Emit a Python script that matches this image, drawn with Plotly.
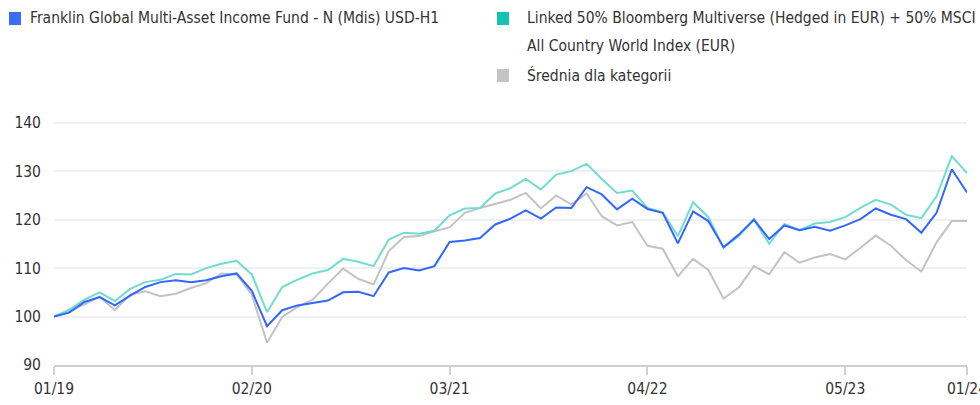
import plotly.graph_objects as go

# ---- data ----
months = []
for yr in range(2019, 2025):
    for m in range(1, 13):
        if yr == 2024 and m > 1:
            break
        months.append(f"{m:02d}/{yr % 100:02d}")

fund = [100.0, 100.8, 103.0, 104.0, 102.3, 104.3, 106.1, 107.1, 107.5, 107.1, 107.5, 108.3, 108.9,
        105.3, 98.0, 101.3, 102.3, 102.8, 103.3, 105.0, 105.1, 104.2, 109.1, 110.0, 109.5, 110.4,
        115.4, 115.7, 116.2, 119.0, 120.2, 121.9, 120.2, 122.5, 122.4, 126.7, 125.2, 122.1, 124.3,
        122.2, 121.4, 115.1, 121.7, 119.7, 114.3, 116.9, 120.0, 116.0, 118.8, 117.8, 118.5, 117.7,
        118.8, 120.1, 122.3, 121.0, 120.1, 117.3, 121.4, 130.4, 125.6]

benchmark = [100.0, 101.4, 103.5, 105.0, 103.2, 105.7, 107.1, 107.6, 108.8, 108.7, 110.0, 110.9, 111.5,
             108.7, 100.9, 106.1, 107.6, 108.9, 109.6, 111.9, 111.3, 110.4, 115.9, 117.3, 117.1, 117.7,
             120.9, 122.3, 122.4, 125.4, 126.5, 128.4, 126.2, 129.3, 130.0, 131.5, 128.4, 125.5, 126.0,
             122.4, 121.5, 116.6, 123.6, 120.5, 114.2, 116.6, 120.0, 115.0, 119.1, 117.8, 119.2, 119.5,
             120.5, 122.4, 124.1, 123.1, 121.0, 120.3, 124.8, 133.1, 129.6]

category = [100.0, 101.1, 102.5, 104.1, 101.3, 104.5, 105.2, 104.2, 104.7, 105.9, 106.9, 108.9, 108.7,
            104.5, 94.6, 99.9, 102.0, 103.5, 106.8, 109.9, 107.8, 106.6, 113.5, 116.4, 116.6, 117.6,
            118.4, 121.4, 122.4, 123.3, 124.1, 125.5, 122.3, 125.0, 123.1, 125.4, 120.7, 118.8, 119.5,
            114.6, 114.0, 108.3, 111.9, 109.6, 103.7, 106.0, 110.4, 108.7, 113.3, 111.1, 112.2, 112.9,
            111.8, 114.2, 116.7, 114.6, 111.6, 109.3, 115.3, 119.7, 119.7]

x_ticks = ["01/19", "02/20", "03/21", "04/22", "05/23", "01/24"]
y_ticks = [90, 100, 110, 120, 130, 140]

names = ["Franklin Global Multi-Asset Income Fund - N (Mdis) USD-H1",
         "Linked 50% Bloomberg Multiverse (Hedged in EUR) + 50% MSCI",
         "All Country World Index (EUR)",
         "Średnia dla kategorii"]

FONT = "DejaVu Sans Condensed, Liberation Sans Narrow, sans-serif"
TXT = "#333333"
FS = 15.5

W, H = 980, 405
ML, MR, MT, MB = 54, 13, 113, 40
PW, PH = W - ML - MR, H - MT - MB


def px(xp):
    return (xp - ML) / PW


def py(yp):
    return (H - MB - yp) / PH


fig = go.Figure()
fig.add_trace(go.Scatter(x=months, y=category, mode="lines", name=names[3],
                         line=dict(color="#c3c3c3", width=2), showlegend=False))
fig.add_trace(go.Scatter(x=months, y=benchmark, mode="lines", name=names[1],
                         line=dict(color="#6fdcd2", width=2), showlegend=False))
fig.add_trace(go.Scatter(x=months, y=fund, mode="lines", name=names[0],
                         line=dict(color="#3366ff", width=2), showlegend=False))

# custom legend
legend_items = [
    (9, 12, "#3a6cf5", 28, 18, names[0]),
    (497, 12, "#12c3b4", 525, 18, names[1]),
    (497, 69, "#c4c4c4", 525, 75, names[3]),
]
for sx, sy, col, tx, ty, txt in legend_items:
    fig.add_shape(type="rect", xref="paper", yref="paper",
                  x0=px(sx), x1=px(sx + 12), y0=py(sy + 13), y1=py(sy),
                  fillcolor=col, line=dict(width=0))
    fig.add_annotation(xref="paper", yref="paper", x=px(tx), y=py(ty), text=txt,
                       showarrow=False, xanchor="left", yanchor="middle",
                       font=dict(family=FONT, size=FS, color=TXT))
fig.add_annotation(xref="paper", yref="paper", x=px(525), y=py(46), text=names[2],
                   showarrow=False, xanchor="left", yanchor="middle",
                   font=dict(family=FONT, size=FS, color=TXT))

fig.update_layout(
    width=W, height=H,
    margin=dict(l=ML, r=MR, t=MT, b=MB),
    paper_bgcolor="white", plot_bgcolor="white",
    font=dict(family=FONT, size=FS, color=TXT),
    showlegend=False,
    xaxis=dict(type="category", range=[0, len(months) - 1], automargin=False,
               tickmode="array", tickvals=x_ticks, ticktext=x_ticks,
               showgrid=False, showline=True, linecolor="#d0d0d0", linewidth=2,
               ticks="outside", ticklen=8, tickwidth=1.5, tickcolor="#d0d0d0",
               tickfont=dict(family=FONT, size=FS, color=TXT), zeroline=False),
    yaxis=dict(range=[90, 142], tickmode="array", tickvals=y_ticks, automargin=False,
               showgrid=True, gridcolor="#f0f0f0", gridwidth=2,
               showline=False, zeroline=False, ticks="",
               ticklabelstandoff=12,
               tickfont=dict(family=FONT, size=FS, color=TXT)),
)

fig.write_html("out.html", config={"displayModeBar": False},
               post_script="document.body.style.margin='0';document.body.style.overflow='hidden';")
